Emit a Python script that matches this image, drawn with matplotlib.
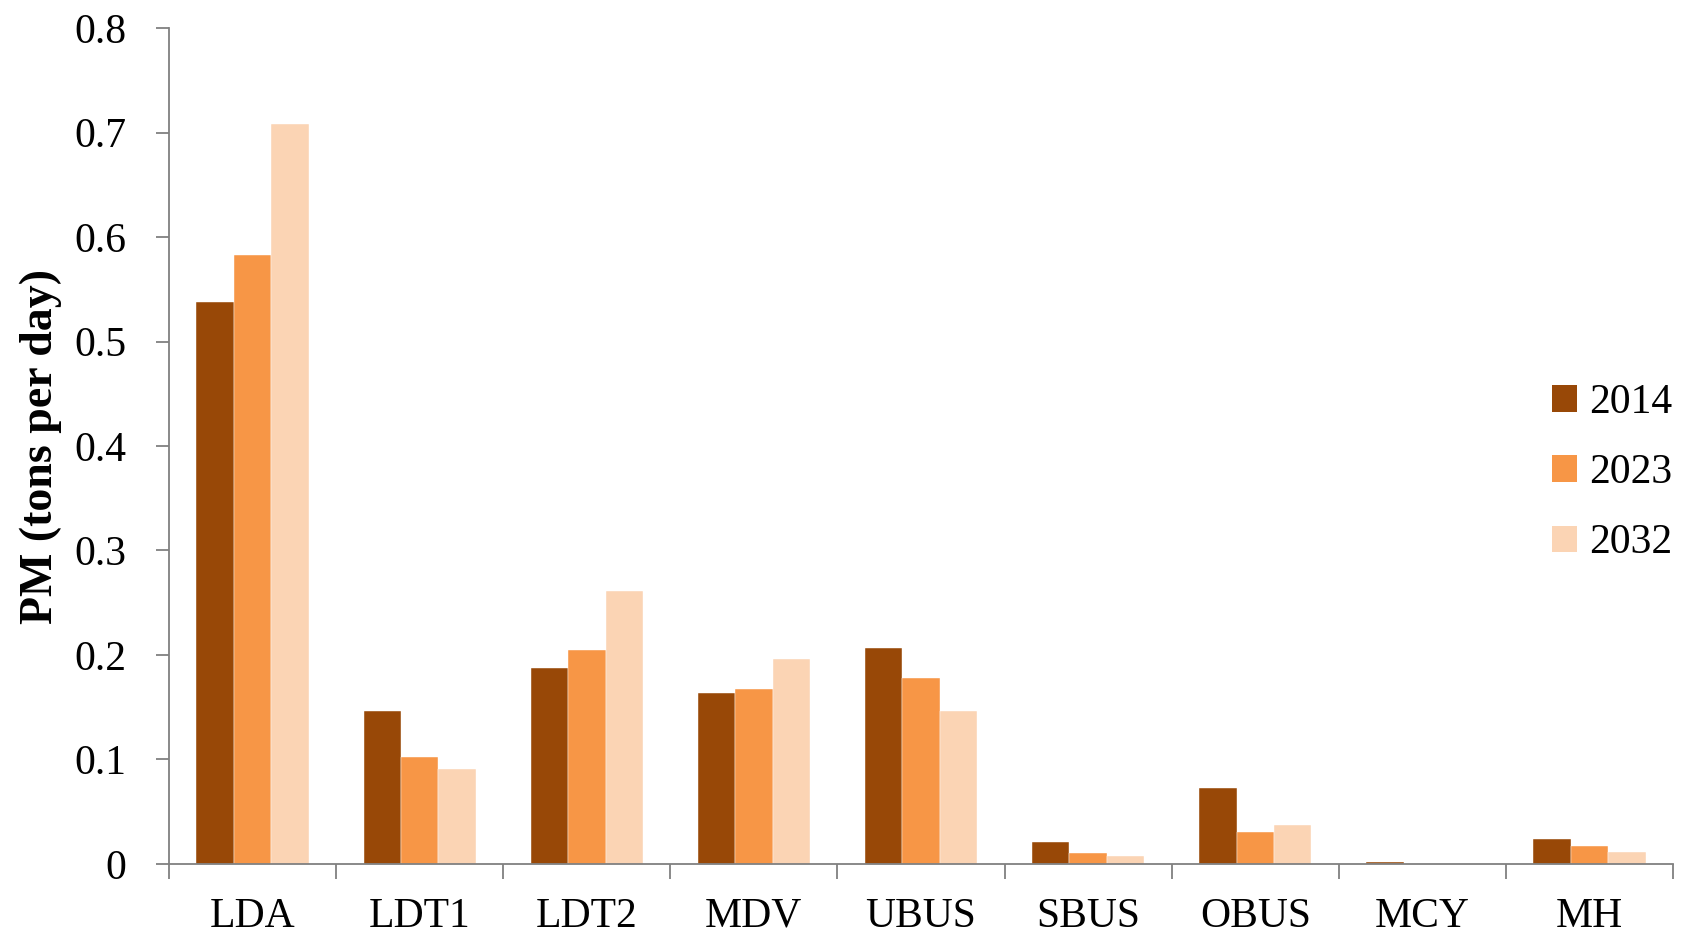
import matplotlib
matplotlib.use("Agg")
import matplotlib.pyplot as plt
from matplotlib.patches import Patch
import numpy as np

categories = ["LDA", "LDT1", "LDT2", "MDV", "UBUS", "SBUS", "OBUS", "MCY", "MH"]
years = ["2014", "2023", "2032"]
pm_2014 = [0.538, 0.146, 0.188, 0.164, 0.207, 0.021, 0.073, 0.002, 0.024]
pm_2023 = [0.583, 0.102, 0.205, 0.167, 0.178, 0.010, 0.031, 0.0, 0.017]
pm_2032 = [0.708, 0.091, 0.261, 0.196, 0.146, 0.008, 0.037, 0.0, 0.011]
yticks = [0, 0.1, 0.2, 0.3, 0.4, 0.5, 0.6, 0.7, 0.8]
ytick_labels = ["0", "0.1", "0.2", "0.3", "0.4", "0.5", "0.6", "0.7", "0.8"]
colors = ["#984807", "#F79646", "#FBD4B4"]

plt.rcParams["font.family"] = ["Liberation Serif", "DejaVu Serif"]
fig = plt.figure(figsize=(16.9, 9.35), dpi=100)
ax = fig.add_axes([0.1, 0.076, 0.89, 0.894])

x = np.arange(len(categories))
w = 0.224
series = [pm_2014, pm_2023, pm_2032]
for i, (vals, c) in enumerate(zip(series, colors)):
    ax.bar(x + (i - 1) * w, vals, width=w, color=c, edgecolor="white",
           linewidth=0.3, label=years[i])

ax.set_xlim(-0.5, len(categories) - 0.5)
ax.set_ylim(0, 0.8)
ax.set_yticks(yticks)
ax.set_yticklabels(ytick_labels)
ax.set_xticks(x)
ax.set_xticklabels(categories)
ax.set_xticks(np.arange(-0.5, len(categories)), minor=True)

gray = "#808080"
for s in ["top", "right"]:
    ax.spines[s].set_visible(False)
for s in ["left", "bottom"]:
    ax.spines[s].set_color(gray)
    ax.spines[s].set_linewidth(1.3)

ax.tick_params(axis="y", direction="out", length=9.5, width=1.3, color=gray,
               labelsize=30, pad=21)
ax.tick_params(axis="x", which="major", length=0, labelsize=30, pad=24)
ax.tick_params(axis="x", which="minor", direction="out", length=11, width=1.3, color=gray)

fig.text(41 / 1690, 1 - 447 / 935, "PM (tons per day)", rotation=90, ha="center",
         va="center", fontsize=33, fontweight="bold")

handles = [Patch(facecolor=c, edgecolor="none") for c in colors]
fig.legend(handles, years, loc="center left", bbox_to_anchor=(1552 / 1690, 1 - 473 / 935),
           frameon=False, fontsize=30, handlelength=0.6, handleheight=0.6,
           handletextpad=0.3, labelspacing=0.76, borderpad=0, borderaxespad=0)

fig.savefig("out.png", dpi=100)
